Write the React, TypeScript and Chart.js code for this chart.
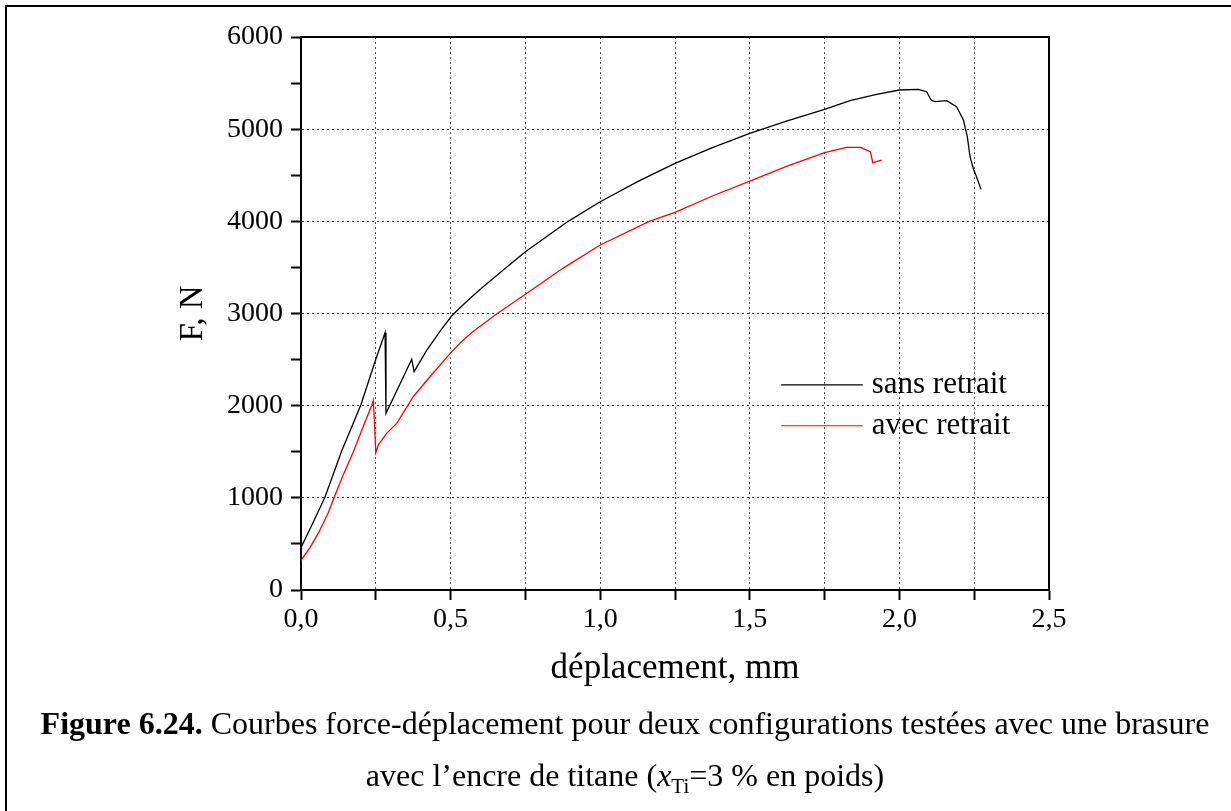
import React, { useEffect, useRef } from "react";
import { Chart, registerables } from "chart.js";

Chart.register(...registerables);

// ---- data ----
const sansRetraitX = [0, 0.04, 0.08, 0.135, 0.2, 0.25, 0.281, 0.284, 0.33, 0.37, 0.378, 0.42, 0.465, 0.504, 0.55, 0.6, 0.675, 0.75, 0.893, 1.0, 1.125, 1.25, 1.375, 1.5, 1.625, 1.75, 1.835, 1.92, 2.0, 2.063, 2.091, 2.106, 2.119, 2.158, 2.191, 2.214, 2.227, 2.236, 2.247, 2.273];
const sansRetraitF = [460, 730, 1006, 1500, 2007, 2503, 2792, 1917, 2230, 2503, 2369, 2600, 2810, 2975, 3120, 3265, 3470, 3671, 4000, 4213, 4430, 4629, 4800, 4955, 5090, 5215, 5309, 5375, 5425, 5432, 5406, 5316, 5298, 5309, 5244, 5099, 4918, 4701, 4575, 4347];

const avecRetraitX = [0, 0.03, 0.06, 0.09, 0.111, 0.14, 0.175, 0.205, 0.236, 0.242, 0.25, 0.258, 0.286, 0.32, 0.375, 0.431, 0.498, 0.535, 0.575, 0.656, 0.75, 0.875, 1.0, 1.164, 1.25, 1.375, 1.5, 1.625, 1.75, 1.824, 1.87, 1.903, 1.911, 1.941];
const avecRetraitF = [320, 460, 630, 830, 1006, 1240, 1500, 1750, 2000, 2061, 1490, 1573, 1700, 1808, 2097, 2314, 2565, 2690, 2805, 3000, 3208, 3490, 3743, 4000, 4098, 4275, 4437, 4600, 4745, 4803, 4803, 4755, 4636, 4665];

const seriesLabels = ["sans retrait", "avec retrait"];
const seriesColors = ["#000000", "#ff0000"];

const xTitle = "déplacement, mm";
const yTitle = "F, N";

const SERIF = "'Liberation Serif', 'Times New Roman', serif";

const legendPlugin = {
  id: "insideLegend",
  afterDatasetsDraw(chart: any) {
    const { ctx, chartArea } = chart;
    const w = chartArea.right - chartArea.left;
    const h = chartArea.bottom - chartArea.top;
    const rows = [0.629, 0.703];
    ctx.save();
    chart.data.datasets.forEach((ds: any, i: number) => {
      const y = chartArea.top + rows[i] * h;
      ctx.beginPath();
      ctx.strokeStyle = ds.borderColor;
      ctx.lineWidth = 1.2;
      ctx.moveTo(chartArea.left + 0.642 * w, y);
      ctx.lineTo(chartArea.left + 0.751 * w, y);
      ctx.stroke();
      ctx.fillStyle = "#000";
      ctx.font = `31px ${SERIF}`;
      ctx.textBaseline = "middle";
      ctx.textAlign = "left";
      ctx.fillText(ds.label, chartArea.left + 0.763 * w, y);
    });
    ctx.restore();
  },
};

const boxPlugin = {
  id: "boxFrame",
  afterDraw(chart: any) {
    const { ctx, chartArea } = chart;
    ctx.save();
    ctx.strokeStyle = "#000";
    ctx.lineWidth = 2;
    ctx.beginPath();
    ctx.moveTo(chartArea.left, chartArea.top);
    ctx.lineTo(chartArea.right, chartArea.top);
    ctx.lineTo(chartArea.right, chartArea.bottom);
    ctx.stroke();
    ctx.restore();
  },
};

function App() {
  const canvasRef = useRef<HTMLCanvasElement | null>(null);

  useEffect(() => {
    if (!canvasRef.current) return;
    const mk = (xs: number[], ys: number[]) => xs.map((x, i) => ({ x, y: ys[i] }));
    const chart = new Chart(canvasRef.current, {
      type: "line",
      data: {
        datasets: [
          {
            label: seriesLabels[0],
            data: mk(sansRetraitX, sansRetraitF),
            borderColor: seriesColors[0],
            borderWidth: 1.3,
            pointRadius: 0,
            tension: 0,
            fill: false,
          },
          {
            label: seriesLabels[1],
            data: mk(avecRetraitX, avecRetraitF),
            borderColor: seriesColors[1],
            borderWidth: 1.3,
            pointRadius: 0,
            tension: 0,
            fill: false,
          },
        ],
      },
      options: {
        animation: false,
        responsive: true,
        maintainAspectRatio: false,
        layout: { padding: { left: 170, top: 37, right: 182, bottom: 121 } },
        plugins: { legend: { display: false }, tooltip: { enabled: false } },
        scales: {
          x: {
            type: "linear",
            min: 0,
            max: 2.5,
            afterFit: (s: any) => {
              s.height = 100;
            },
            ticks: {
              stepSize: 0.25,
              autoSkip: false,
              maxRotation: 0,
              padding: 3,
              color: "#000",
              font: { family: SERIF, size: 28 },
              callback: (v: any) => {
                const n = Number(v);
                if (Math.abs(Math.round(n * 2) - n * 2) > 1e-6) return "";
                return n.toFixed(1).replace(".", ",");
              },
            },
            grid: {
              color: (c: any) => (c.tick && c.tick.value > 0 && c.tick.value < 2.5 ? "#555" : "rgba(0,0,0,0)"),
              lineWidth: 1,
              tickColor: "#000",
              tickLength: 10,
              tickWidth: 2,
            },
            border: { color: "#000", width: 2, dash: [2, 3] },
            title: {
              display: true,
              text: xTitle,
              color: "#000",
              font: { family: SERIF, size: 35 },
              padding: { top: 0, bottom: 0 },
            },
          },
          y: {
            type: "linear",
            min: 0,
            max: 6000,
            afterFit: (s: any) => {
              s.width = 131;
            },
            ticks: {
              stepSize: 500,
              autoSkip: false,
              padding: 8,
              color: "#000",
              font: { family: SERIF, size: 28 },
              callback: (v: any) => (Number(v) % 1000 === 0 ? String(v) : ""),
            },
            grid: {
              color: (c: any) =>
                c.tick && c.tick.value % 1000 === 0 && c.tick.value > 0 && c.tick.value < 6000 ? "#333" : "rgba(0,0,0,0)",
              lineWidth: 1,
              tickColor: "#000",
              tickLength: 10,
              tickWidth: 2,
            },
            border: { color: "#000", width: 2, dash: [2, 3] },
            title: {
              display: true,
              text: yTitle,
              color: "#000",
              font: { family: SERIF, size: 33 },
              padding: { top: 4, bottom: 0 },
            },
          },
        },
      },
      plugins: [legendPlugin, boxPlugin],
    });
    return () => chart.destroy();
  }, []);

  return (
    <div
      style={{
        position: "absolute",
        left: 0,
        top: 0,
        width: 1231,
        height: 811,
        overflow: "hidden",
        background: "#fff",
      }}
    >
      <div
        style={{
          position: "absolute",
          left: 5,
          top: 5,
          width: 1400,
          height: 1000,
          borderTop: "2.5px solid #000",
          borderLeft: "2.5px solid #000",
        }}
      />
      <div style={{ position: "absolute", left: 0, top: 0, width: 1231, height: 811 }}>
        <canvas ref={canvasRef} />
      </div>
      <div
        style={{
          position: "absolute",
          left: 0,
          width: 1250,
          top: 697,
          textAlign: "center",
          fontFamily: SERIF,
          fontSize: 32,
          lineHeight: "52px",
          color: "#000",
          whiteSpace: "nowrap",
        }}
      >
        <div>
          <b>Figure 6.24.</b> Courbes force-déplacement pour deux configurations testées avec une brasure
        </div>
        <div>
          avec l’encre de titane (<i>x</i>
          <sub style={{ fontSize: 21, lineHeight: 0 }}>Ti</sub>=3 % en poids)
        </div>
      </div>
    </div>
  );
}

export default App;
